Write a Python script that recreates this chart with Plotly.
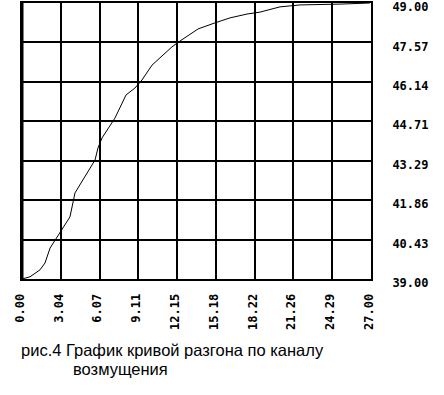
import plotly.graph_objects as go

t_values = [0.00, 0.62, 1.39, 1.78, 2.17, 2.55, 3.09, 3.71, 4.10, 4.49, 5.65, 5.88, 6.19,
            7.19, 8.05, 8.74, 9.28, 10.06, 10.91, 11.60, 12.22, 13.62, 14.93, 16.09,
            17.41, 18.41, 19.96, 21.51, 24.60, 26.92]
y_values = [39.00, 39.08, 39.33, 39.58, 40.12, 40.41, 40.78, 41.25, 42.12, 42.41, 43.31, 43.75, 44.11,
            44.83, 45.67, 45.92, 46.21, 46.75, 47.12, 47.41, 47.62, 48.06, 48.28, 48.46,
            48.60, 48.67, 48.86, 48.93, 48.96, 49.00]

x_tick_labels = ["0.00", "3.04", "6.07", "9.11", "12.15", "15.18", "18.22", "21.26", "24.29", "27.00"]
y_tick_labels = ["39.00", "40.43", "41.86", "43.29", "44.71", "46.14", "47.57", "49.00"]

caption_line1 = "рис.4 График кривой разгона по каналу"
caption_line2 = "возмущения"

x_tickvals = [i * 27 / (len(x_tick_labels) - 1) for i in range(len(x_tick_labels))]
y_tickvals = [39 + i * 10 / (len(y_tick_labels) - 1) for i in range(len(y_tick_labels))]

fig = go.Figure()
fig.add_trace(go.Scatter(x=t_values, y=y_values, mode="lines",
                         line=dict(color="black", width=1), showlegend=False))

tickfont = dict(family="DejaVu Sans Mono", size=12, color="black", weight="bold")

# plot area: x 22..371, y 3..279  (width 349, height 276)
W, H, L, T = 349, 276, 22, 3
def px(x):
    return (x - L) / W
def py(y):
    return (T + H - y) / H

fig.update_layout(
    width=444, height=395,
    margin=dict(l=22, r=73, t=3, b=116, autoexpand=False),
    paper_bgcolor="white", plot_bgcolor="white",
    xaxis=dict(range=[0, 27], tickvals=x_tickvals, ticktext=x_tick_labels,
               tickangle=-90, showgrid=True, gridcolor="black", gridwidth=2,
               showline=True, linecolor="black", linewidth=2, mirror=True,
               zeroline=False, ticks="", tickfont=tickfont, ticklabelstandoff=8,
               automargin=False, ticklabeloverflow="allow", ticklabelshift=-2),
    yaxis=dict(range=[39, 49], tickvals=y_tickvals, ticktext=y_tick_labels,
               side="right", showgrid=True, gridcolor="black", gridwidth=2,
               showline=True, linecolor="black", linewidth=2, mirror=True,
               zeroline=False, ticks="", tickfont=tickfont, ticklabelstandoff=17,
               automargin=False, ticklabeloverflow="allow", ticklabelshift=4),
    shapes=[dict(type="line", xref="x", yref="y", x0=0, x1=0, y0=39, y1=49,
                 line=dict(color="black", width=3))],
    annotations=[
        dict(text=caption_line1, xref="paper", yref="paper", x=px(19), y=py(350),
             xanchor="left", yanchor="middle", showarrow=False,
             font=dict(family="Liberation Sans", size=16.5, color="black")),
        dict(text=caption_line2, xref="paper", yref="paper", x=px(71), y=py(369),
             xanchor="left", yanchor="middle", showarrow=False,
             font=dict(family="Liberation Sans", size=16.5, color="black")),
    ],
)

fig.write_html("out.html", config={"displayModeBar": False},
               post_script="document.body.style.margin='0';document.body.style.padding='0';")
